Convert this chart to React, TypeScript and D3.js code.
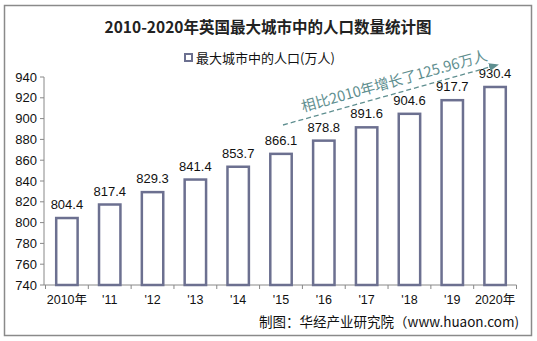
import React from "react";
import * as d3 from "d3";

const categories = ["2010年", "'11", "'12", "'13", "'14", "'15", "'16", "'17", "'18", "'19", "2020年"];
const values = [804.4, 817.4, 829.3, 841.4, 853.7, 866.1, 878.8, 891.6, 904.6, 917.7, 930.4];
const yTicks = [740, 760, 780, 800, 820, 840, 860, 880, 900, 920, 940];
const title = "2010-2020年英国最大城市中的人口数量统计图";
const legendLabel = "最大城市中的人口(万人)";
const annotation = "相比2010年增长了125.96万人";
const source = "制图：华经产业研究院（www.huaon.com)";

export default function App() {
  const W = 537, H = 341;
  const x = d3.scaleBand<string>().domain(categories).range([45.5, 516.5]).paddingInner(0.5).paddingOuter(0.25);
  const y = d3.scaleLinear().domain([740, 940]).range([285, 77]);
  const barColor = "#6c7090";
  const sans = "Arial, 'Liberation Sans', 'Noto Sans CJK SC', sans-serif";
  const cjk = "'Noto Sans CJK SC', sans-serif";
  const step = x.step();
  const bw = x.bandwidth();
  const boundaries = d3.range(categories.length + 1).map(i => x.range()[0] + i * step);
  const ax0 = 283, ay0 = 125, ax1 = 497, ay1 = 65;
  const ang = Math.atan2(ay1 - ay0, ax1 - ax0) * 180 / Math.PI;
  return (
    <svg width={W} height={H} style={{ position: "absolute", left: 0, top: 0, background: "#fff" }}>
      <defs>
        <marker id="arr" markerWidth="10" markerHeight="8" refX="8" refY="4" orient="auto" markerUnits="userSpaceOnUse">
          <path d="M0,0 L10,4 L0,8 Z" fill="#5f8f90" />
        </marker>
      </defs>
      <rect x={4.5} y={5.5} width={527} height={330} fill="#fff" stroke="#8a8a8a" strokeWidth={1.5} />
      <text x={268} y={33} textAnchor="middle" fontFamily={cjk} fontWeight="bold" fontSize={15.5} fill="#222">{title}</text>
      <rect x={185} y={54} width={7} height={7} fill="#fff" stroke={barColor} strokeWidth={2} />
      <text x={196} y={63} fontFamily={cjk} fontSize={13} fill="#111">{legendLabel}</text>
      {yTicks.map(t => (
        <g key={t}>
          <line x1={40} x2={44} y1={y(t)} y2={y(t)} stroke="#888" />
          <text x={37} y={y(t) + 4.5} textAnchor="end" fontFamily={sans} fontSize={13} fill="#111">{t}</text>
        </g>
      ))}
      <line x1={44} x2={44} y1={77} y2={285} stroke="#888" />
      <line x1={44} x2={x.range()[1]} y1={285} y2={285} stroke="#888" />
      {boundaries.map((b, i) => (
        <line key={i} x1={b} x2={b} y1={285} y2={289} stroke="#888" />
      ))}
      {categories.map((c, i) => (
        <g key={c}>
          <rect x={x(c)!} y={y(values[i])} width={bw} height={285 - y(values[i])} fill="#fff" stroke={barColor} strokeWidth={2.5} />
          <text x={x(c)! + bw / 2} y={y(values[i]) - 9} textAnchor="middle" fontFamily={sans} fontSize={13} fill="#111">{values[i]}</text>
          <text x={x(c)! + bw / 2} y={304} textAnchor="middle" fontFamily={sans} fontSize={12.5} fill="#111">{c}</text>
        </g>
      ))}
      <line x1={ax0} y1={ay0} x2={ax1} y2={ay1} stroke="#5f8f90" strokeWidth={1.3} strokeDasharray="5,3" markerEnd="url(#arr)" />
      <text transform={`translate(303,112) rotate(${ang})`} fontFamily={cjk} fontSize={14.5} fill="#5f8f90">{annotation}</text>
      <text x={519} y={327} textAnchor="end" fontFamily={cjk} fontSize={13.5} fill="#111">{source}</text>
    </svg>
  );
}
